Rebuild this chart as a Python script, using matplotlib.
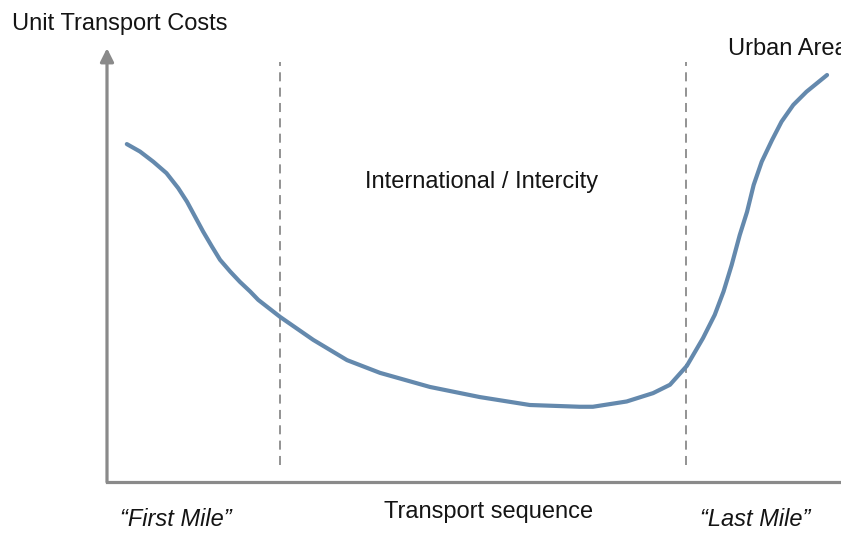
import matplotlib
matplotlib.use('Agg')
import matplotlib.pyplot as plt
from matplotlib.patches import FancyArrowPatch

plt.rcParams['font.family'] = ['Liberation Sans', 'DejaVu Sans']

# transport sequence position (0-100) and unit cost (0-100)
seq = [2.7, 4.5, 6.3, 8.1, 9.7, 10.9, 12.0, 13.1, 14.3, 15.4, 16.8, 18.1,
       19.5, 20.6, 23.6, 28.1, 32.7, 37.2, 44.0, 50.8, 57.6, 64.4, 66.2,
       70.8, 74.4, 76.7, 79.0, 81.2, 82.8, 84.0, 85.1, 86.2, 87.2, 88.1,
       89.2, 90.6, 91.9, 93.5, 95.3, 98.1]
cost = [76.8, 75.1, 72.8, 70.2, 66.8, 63.7, 60.3, 56.9, 53.5, 50.5, 47.8, 45.5,
        43.3, 41.4, 37.5, 32.3, 27.7, 24.8, 21.6, 19.3, 17.5, 17.1, 17.1,
        18.3, 20.2, 22.1, 26.4, 32.7, 38.0, 43.3, 49.3, 56.1, 61.4, 67.5,
        72.8, 77.7, 81.9, 85.7, 88.7, 92.5]

# boundaries between first mile / intercity / last mile
boundaries = [23.6, 78.9]

curve_color = '#6489ad'
axis_color = '#8a8a8a'
text_color = '#141414'

fig = plt.figure(figsize=(8.41, 5.33), dpi=100)
ax = fig.add_axes([107 / 841, 51 / 533, 734 / 841, 440 / 533])
ax.set_xlim(0, 100)
ax.set_ylim(0, 100)

ax.plot(seq, cost, color=curve_color, lw=3.0, solid_capstyle='round',
        solid_joinstyle='round', zorder=3)

for b in boundaries:
    ax.plot([b, b], [3.9, 95.5], color=axis_color, lw=1.3,
            linestyle=(0, (5, 3.5)), zorder=2)

for s in ['top', 'right', 'left']:
    ax.spines[s].set_visible(False)
ax.spines['bottom'].set_color(axis_color)
ax.spines['bottom'].set_linewidth(2.3)
ax.set_xticks([])
ax.set_yticks([])

# y axis with arrow head
arrow = FancyArrowPatch((0, 0), (0, 0.986), transform=ax.transAxes,
                        arrowstyle='-|>,head_length=0.4,head_width=0.2',
                        mutation_scale=20, color=axis_color, lw=2.3,
                        shrinkA=0, shrinkB=0, clip_on=False, zorder=4)
ax.add_patch(arrow)

W, H = 841, 533


def ftext(x, y, s, **kw):
    fig.text(x / W, 1 - y / H, s, fontsize=17, color=text_color,
             va='center', **kw)


ftext(12, 24, 'Unit Transport Costs', ha='left')
ftext(482, 182, 'International / Intercity', ha='center')
ftext(728, 49, 'Urban Area', ha='left')
ftext(489, 512, 'Transport sequence', ha='center')
ftext(176, 519, '\u201cFirst Mile\u201d', ha='center', style='italic')
ftext(755, 519, '\u201cLast Mile\u201d', ha='center', style='italic')

fig.savefig('out.png', dpi=100)
